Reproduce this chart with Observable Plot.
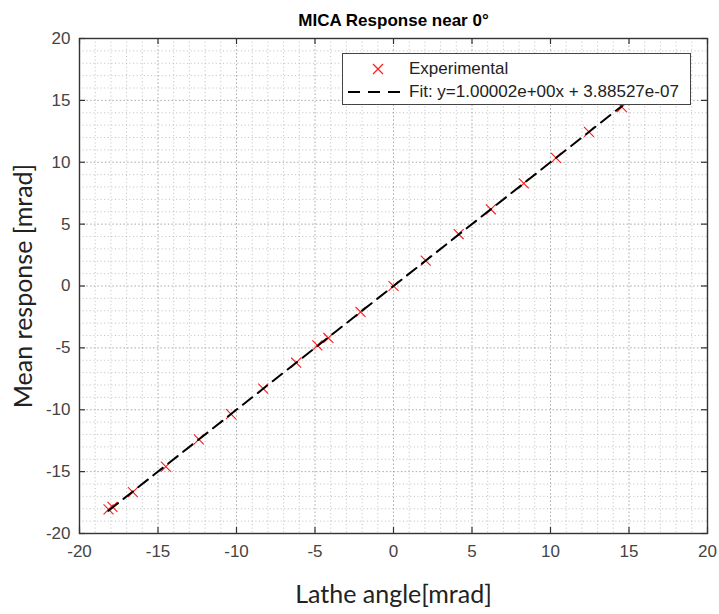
<!DOCTYPE html>
<html>
<head>
<meta charset="utf-8">
<script src="https://cdn.jsdelivr.net/npm/d3@7"></script>
<script src="https://cdn.jsdelivr.net/npm/@observablehq/plot@0.6"></script>
<style>
  html, body { margin: 0; padding: 0; background: #fff; }
  #wrap { position: relative; width: 719px; height: 614px; overflow: hidden; }
  #legend {
    position: absolute; left: 342px; top: 53px; width: 347px; height: 50px;
    border: 1.3px solid #444; background: #fff;
    font-family: "Liberation Sans", Arial, sans-serif; font-size: 17px; color: #222;
  }
  #legend .row { position: absolute; left: 0; height: 22px; display: flex; align-items: center; white-space: nowrap; }
  #legend svg { display: block; }
</style>
</head>
<body>
<div id="wrap"></div>
<script>
// ---- data ----
const latheAngle = [-18.15, -17.9, -16.6, -14.5, -12.4, -10.35, -8.3, -6.2, -4.85, -4.15, -2.1, 0.0, 2.05, 4.15, 6.2, 8.3, 10.35, 12.45, 14.55];
const meanResponse = [-18.05, -17.85, -16.65, -14.6, -12.4, -10.35, -8.3, -6.2, -4.8, -4.2, -2.1, 0.0, 2.05, 4.2, 6.2, 8.3, 10.35, 12.45, 14.45];
const fitSlope = 1.00002;
const fitIntercept = 3.88527e-07;
const xTicks = [-20, -15, -10, -5, 0, 5, 10, 15, 20];
const yTicks = [-20, -15, -10, -5, 0, 5, 10, 15, 20];
const minorTicks = d3.range(-19, 20).filter(v => v % 5 !== 0);
const titleText = "MICA Response near 0°";
const xLabel = "Lathe angle[mrad]";
const yLabel = "Mean response [mrad]";
const legendLabels = ["Experimental", "Fit: y=1.00002e+00x + 3.88527e-07"];

const points = latheAngle.map((x, i) => ({x, y: meanResponse[i]}));
const fitX = [d3.min(latheAngle), d3.max(latheAngle)];
const fitLine = fitX.map(x => ({x, y: fitSlope * x + fitIntercept}));

const W = 719, H = 614, mL = 79, mR = 12, mT = 38, mB = 81;
const innerH = H - mT - mB, innerW = W - mL - mR;
const tickLen = 6;
const hyphenFormat = d => String(d);

const chart = Plot.plot({
  width: W, height: H,
  marginLeft: mL, marginRight: mR, marginTop: mT, marginBottom: mB,
  x: {domain: [-20, 20]},
  y: {domain: [-20, 20]},
  style: {fontFamily: "'Liberation Sans', Arial, sans-serif", fontSize: "17px", color: "#444", background: "#fff"},
  marks: [
    Plot.gridX(minorTicks, {stroke: "#aaa", strokeOpacity: 0.75, strokeDasharray: "1,2.6"}),
    Plot.gridY(minorTicks, {stroke: "#aaa", strokeOpacity: 0.75, strokeDasharray: "1,2.6"}),
    Plot.gridX(xTicks, {stroke: "#999", strokeOpacity: 0.85, strokeDasharray: "1.5,2.2"}),
    Plot.gridY(yTicks, {stroke: "#999", strokeOpacity: 0.85, strokeDasharray: "1.5,2.2"}),
    // inward tick marks on all four sides
    Plot.tickX(xTicks, {x: d => d, insetTop: innerH - tickLen, stroke: "#333", strokeWidth: 1.2}),
    Plot.tickX(xTicks, {x: d => d, insetBottom: innerH - tickLen, stroke: "#333", strokeWidth: 1.2}),
    Plot.tickY(yTicks, {y: d => d, insetRight: innerW - tickLen, stroke: "#333", strokeWidth: 1.2}),
    Plot.tickY(yTicks, {y: d => d, insetLeft: innerW - tickLen, stroke: "#333", strokeWidth: 1.2}),
    Plot.frame({stroke: "#333", strokeWidth: 1.4}),
    Plot.axisX(xTicks, {anchor: "bottom", tickSize: 0, tickPadding: 11, label: null, fill: "#444", tickFormat: hyphenFormat}),
    Plot.axisY(yTicks, {anchor: "left", tickSize: 0, tickPadding: 9, label: null, fill: "#444", tickFormat: hyphenFormat}),
    Plot.dot(points, {x: "x", y: "y", symbol: "times", r: 4.6, stroke: "#ff1a1a", strokeWidth: 1.1}),
    Plot.line(fitLine, {x: "x", y: "y", stroke: "#000", strokeWidth: 2, strokeDasharray: "12,7"}),
    Plot.text([titleText], {frameAnchor: "top", dy: -18, lineAnchor: "middle", fontWeight: "bold", fontSize: 17, fill: "#000"}),
    Plot.text([xLabel], {frameAnchor: "bottom", dy: 61, lineAnchor: "middle", fontFamily: "Lato, 'Open Sans', sans-serif", fontSize: 25, fill: "#222"}),
    Plot.text([yLabel], {frameAnchor: "left", dx: -56, textAnchor: "middle", lineAnchor: "middle", rotate: -90, fontFamily: "Lato, 'Open Sans', sans-serif", fontSize: 25, fill: "#222"})
  ]
});

const wrap = document.getElementById("wrap");
wrap.appendChild(chart);

// legend (HTML overlay)
const legend = document.createElement("div");
legend.id = "legend";
legend.innerHTML = `
  <div class="row" style="top:4px;">
    <svg width="66" height="22"><path d="M30,6L40,16M40,6L30,16" stroke="#ff1a1a" stroke-width="1.2"/></svg>
    <span>${legendLabels[0]}</span>
  </div>
  <div class="row" style="top:27px;">
    <svg width="66" height="22"><line x1="5" y1="11" x2="61" y2="11" stroke="#000" stroke-width="2" stroke-dasharray="12,8"/></svg>
    <span>${legendLabels[1]}</span>
  </div>`;
wrap.appendChild(legend);
</script>
</body>
</html>
